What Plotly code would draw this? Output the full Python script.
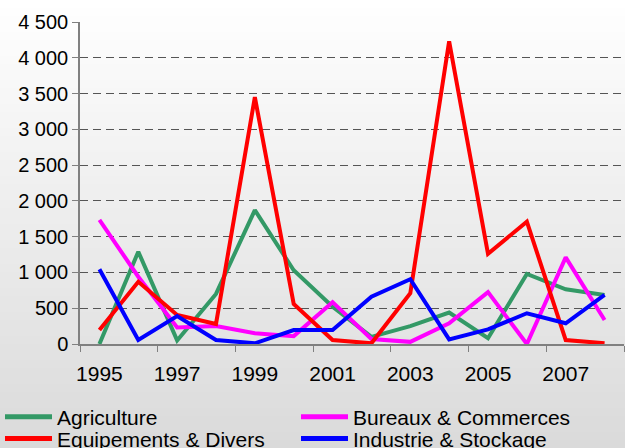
import plotly.graph_objects as go

years = [1995, 1996, 1997, 1998, 1999, 2000, 2001, 2002, 2003, 2004, 2005, 2006, 2007, 2008]
agriculture = [0, 1290, 50, 700, 1870, 1030, 520, 100, 250, 440, 80, 980, 765, 685]
bureaux = [1735, 940, 230, 250, 150, 110, 585, 70, 30, 290, 725, 0, 1210, 335]
equipements = [195, 870, 405, 280, 3450, 560, 55, 10, 710, 4230, 1260, 1710, 55, 10]
industrie = [1045, 55, 390, 55, 10, 195, 195, 660, 905, 65, 205, 430, 290, 685]

series = [
    ("Agriculture", agriculture, "#339966", "legend"),
    ("Bureaux & Commerces", bureaux, "#FF00FF", "legend"),
    ("Equipements & Divers", equipements, "#FF0000", "legend2"),
    ("Industrie & Stockage", industrie, "#0000FF", "legend2"),
]

xcat = [str(y) for y in years]
fig = go.Figure()
for name, vals, col, lg in series:
    fig.add_trace(go.Scatter(x=xcat, y=vals, name=name, mode="lines",
                             line=dict(color=col, width=4), legend=lg))

# background gradient (white top -> light gray bottom)
W, H = 625, 448
ml, mr, mt, mb = 80, 1, 22, 104
pw = W - ml - mr
ph = H - mt - mb
n = 56
shapes = []
for i in range(n):
    t0 = i / n
    t1 = (i + 1) / n
    py0 = t0 * H - (1 if i == 0 else 0)
    py1 = t1 * H + 1
    g = int(round(255 - (255 - 218) * (t0 + t1) / 2))
    col = f"rgb({g},{g},{g})"
    y_top = (H - mb - py0) / ph
    y_bot = (H - mb - py1) / ph
    shapes.append(dict(type="rect", xref="paper", yref="paper",
                       x0=-ml / pw - 0.01, x1=1 + 0.05,
                       y0=y_bot, y1=y_top, fillcolor=col,
                       line=dict(width=0), layer="below"))

font = "Liberation Sans, Arial, sans-serif"
leg_common = dict(orientation="h", x=(0 - ml) / pw, xanchor="left", yanchor="top",
                  entrywidth=234, entrywidthmode="pixels", itemwidth=47,
                  font=dict(size=21, family=font), bgcolor="rgba(0,0,0,0)",
                  tracegroupgap=0, itemsizing="constant")
fig.update_layout(
    width=W, height=H,
    margin=dict(l=ml, r=mr, t=mt, b=mb, autoexpand=False),
    paper_bgcolor="#ffffff",
    plot_bgcolor="rgba(0,0,0,0)",
    separators=", ",
    font=dict(family=font, size=20, color="black"),
    shapes=shapes,
    showlegend=True,
    legend=dict(leg_common, y=-0.163),
    legend2=dict(leg_common, y=-0.231),
    xaxis=dict(type="category", range=[-0.5, 13.5], dtick=2, tickson="boundaries",
               tickangle=0, automargin=False, ticklabelstandoff=10,
               showgrid=False, showline=True, linecolor="#808080", linewidth=1.5,
               ticks="outside", ticklen=6, tickcolor="#808080",
               tickfont=dict(size=21)),
    yaxis=dict(range=[0, 4500], dtick=500, tickformat=",d", showgrid=True,
               automargin=False,
               gridcolor="#555555", gridwidth=1, griddash="8px,5px",
               showline=True, linecolor="#808080", linewidth=1.5,
               ticks="outside", ticklen=6, tickcolor="#808080",
               zeroline=False, tickfont=dict(size=20)),
)

fig.write_html("out.html", post_script="document.body.style.margin='0';",
               config={"displayModeBar": False})
